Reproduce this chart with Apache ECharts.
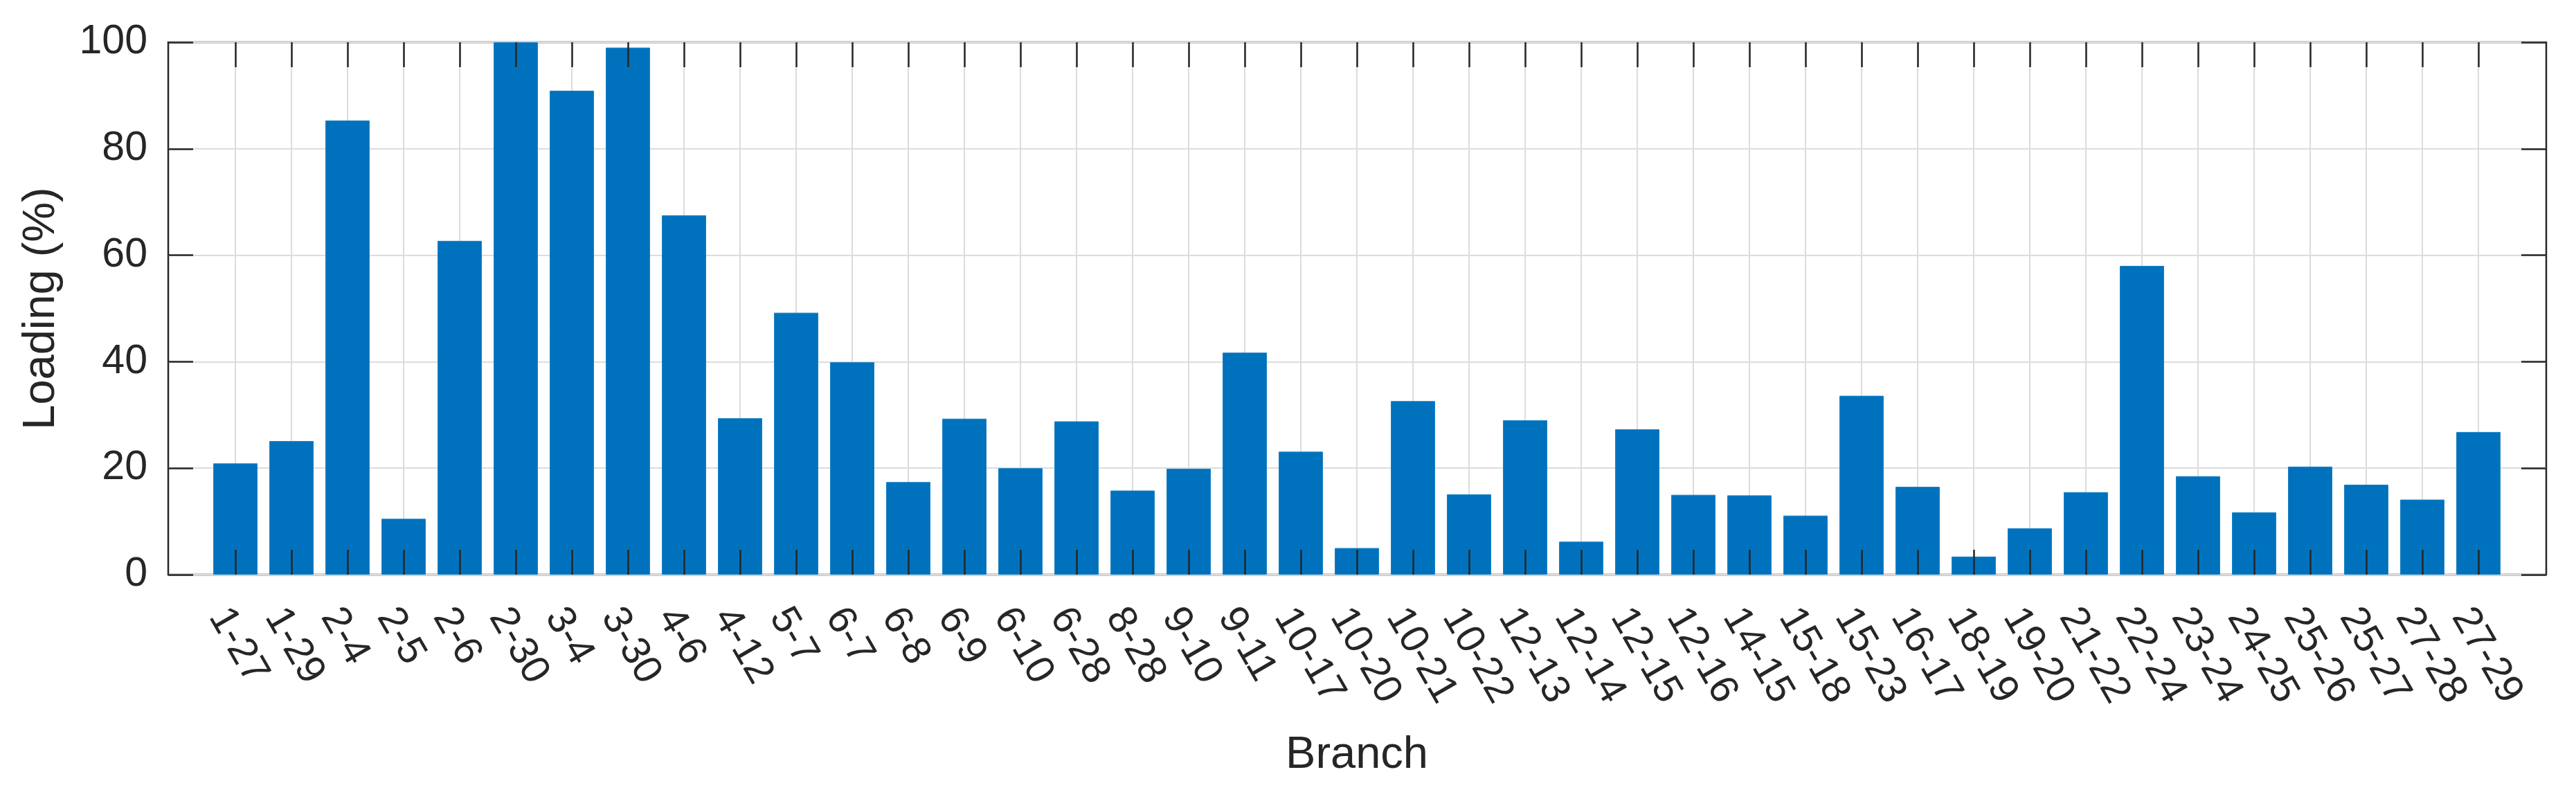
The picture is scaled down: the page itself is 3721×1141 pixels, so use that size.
<!DOCTYPE html>
<html>
<head>
<meta charset="utf-8">
<script src="https://cdn.jsdelivr.net/npm/echarts@6/dist/echarts.min.js"></script>
<style>
html,body{margin:0;padding:0;background:#fff;}
#chart{width:3721px;height:1141px;}
</style>
</head>
<body>
<div id="chart"></div>
<script>
const branches = ['1-27','1-29','2-4','2-5','2-6','2-30','3-4','3-30','4-6','4-12',
  '5-7','6-7','6-8','6-9','6-10','6-28','8-28','9-10','9-11','10-17',
  '10-20','10-21','10-22','12-13','12-14','12-15','12-16','14-15','15-18','15-23',
  '16-17','18-19','19-20','21-22','22-24','23-24','24-25','25-26','25-27','27-28','27-29'];
const loading = [20.9,25.1,85.3,10.5,62.7,100,90.9,99.0,67.5,29.4,
  49.2,39.9,17.4,29.3,20.0,28.8,15.8,19.9,41.7,23.1,
  5.0,32.6,15.1,29.0,6.2,27.3,15.0,14.9,11.1,33.6,
  16.5,3.4,8.7,15.5,58.0,18.5,11.7,20.3,16.9,14.1,26.8];
const yTicks = [0,20,40,60,80,100];

const FONT = '"Liberation Sans", Arial, Helvetica, sans-serif';
const INK = '#262626';
const GRIDC = '#dcdcdc';

const chart = echarts.init(document.getElementById('chart'), null, {renderer:'canvas'});
chart.setOption({
  animation: false,
  backgroundColor: '#fff',
  textStyle: {fontFamily: FONT, color: INK},
  grid: [
    {left: 243, right: 43, top: 61, bottom: 311, show: true, borderColor: INK, borderWidth: 2.5, backgroundColor: 'transparent', containLabel: false},
    {left: 340, right: 141, top: 61, bottom: 311, containLabel: false}
  ],
  xAxis: [
    {gridIndex: 0, type: 'value', min: 0, max: 1, show: false},
    {gridIndex: 1, type: 'category', data: branches, boundaryGap: false, position: 'bottom', z: 10,
      axisLine: {show: false},
      axisTick: {show: true, inside: true, length: 36, interval: 0, lineStyle: {color: INK, width: 2.5}},
      axisLabel: {interval: 0, rotate: -60, margin: 38, verticalAlign: 'top', fontSize: 58, fontFamily: FONT, color: INK},
      splitLine: {show: false},
      name: 'Branch', nameLocation: 'middle', nameGap: 229,
      nameTextStyle: {fontSize: 65, fontFamily: FONT, color: INK}
    },
    {gridIndex: 1, type: 'category', data: branches, boundaryGap: false, position: 'top', z: 10,
      axisLine: {show: false},
      axisTick: {show: true, inside: true, length: 36, interval: 0, lineStyle: {color: INK, width: 2.5}},
      axisLabel: {show: false}, splitLine: {show: false}
    },
    {gridIndex: 1, type: 'category', data: branches, boundaryGap: false, position: 'bottom', z: 0,
      axisLine: {show: false}, axisTick: {show: false}, axisLabel: {show: false},
      splitLine: {show: true, interval: 0, lineStyle: {color: GRIDC, width: 2}}
    }
  ],
  yAxis: [
    {gridIndex: 0, type: 'value', min: 0, max: 100, interval: 20, position: 'left',
      axisLine: {show: false},
      axisTick: {show: true, inside: true, length: 36, lineStyle: {color: INK, width: 2.5}},
      axisLabel: {margin: 30, fontSize: 59, fontFamily: FONT, color: INK,
        formatter: v => yTicks.includes(v) ? String(v) : ''},
      splitLine: {show: true, lineStyle: {color: GRIDC, width: 2}},
      name: 'Loading (%)', nameLocation: 'middle', nameGap: 150, nameRotate: 90,
      nameTextStyle: {fontSize: 65, fontFamily: FONT, color: INK}
    },
    {gridIndex: 0, type: 'value', min: 0, max: 100, interval: 20, position: 'right',
      axisLine: {show: false},
      axisTick: {show: true, inside: true, length: 36, lineStyle: {color: INK, width: 2.5}},
      axisLabel: {show: false}, splitLine: {show: false}
    },
    {gridIndex: 1, type: 'value', min: 0, max: 100, show: false}
  ],
  series: [{
    type: 'bar', xAxisIndex: 1, yAxisIndex: 2, data: loading, clip: false,
    barWidth: '79%', z: 5,
    itemStyle: {color: '#0072BD', borderColor: '#1a80c4', borderWidth: 1}
  }]
});
</script>
</body>
</html>
